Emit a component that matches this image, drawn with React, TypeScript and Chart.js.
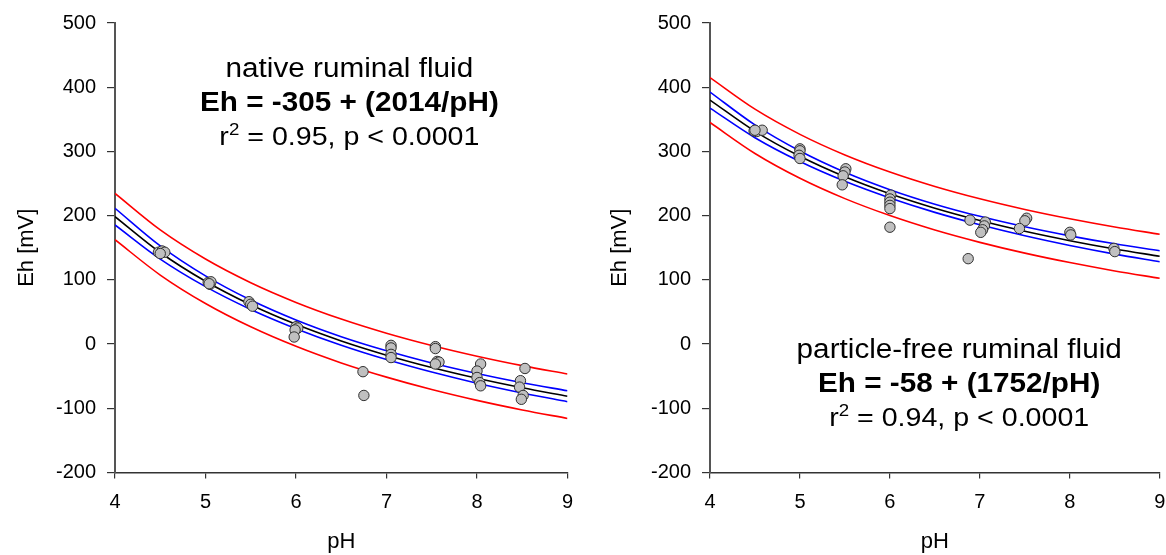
import React, { useEffect, useRef } from "react";
import { Chart, registerables } from "chart.js";

Chart.register(...registerables);

// ---------- data ----------
const PH_GRID = [4, 4.5, 5, 5.5, 6, 6.5, 7, 7.5, 8, 8.5, 9];

// native ruminal fluid: regression Eh = -305 + 2014/pH and its bands
const nativeFit = [198.5, 142.6, 97.8, 61.2, 30.7, 4.8, -17.3, -36.5, -53.3, -68.1, -81.2];
const nativeConfUpper = [211.5, 152.9, 106.2, 68.5, 37.4, 11.4, -10.5, -29.4, -45.7, -60.1, -72.7];
const nativeConfLower = [185.5, 132.3, 89.4, 53.9, 24.0, -1.8, -24.1, -43.6, -60.9, -76.1, -89.7];
const nativePredUpper = [234.5, 177.7, 132.4, 95.5, 64.9, 39.0, 16.9, -2.2, -18.9, -33.6, -46.6];
const nativePredLower = [162.5, 107.5, 63.2, 26.9, -3.5, -29.4, -51.5, -70.8, -87.7, -102.6, -115.8];

const nativePH = [4.48, 4.52, 4.55, 4.5, 5.03, 5.05, 5.06, 5.04, 5.48, 5.5, 5.52, 6.0, 6.02, 5.99, 5.98, 6.74, 6.75,
  7.05, 7.05, 7.05, 7.05, 7.54, 7.54, 7.56, 7.58, 7.54, 8.04, 8.0, 8.0, 8.03, 8.04, 8.53, 8.48, 8.47, 8.51, 8.49];
const nativeEh = [143, 145, 143, 141, 96, 93, 97, 94, 66, 62, 59, 27, 25, 22, 11, -43, -80,
  -2, -6, -16, -21, -4, -7, -27, -28, -31, -31, -42, -52, -60, -65, -38, -57, -67, -80, -86];

// particle-free ruminal fluid: regression Eh = -58 + 1752/pH and its bands
const freeFit = [380, 331.3, 292.4, 260.5, 234, 211.5, 192.3, 175.6, 161, 148.1, 136.7];
const freeConfUpper = [392.5, 341.3, 300.6, 267.6, 240.5, 217.9, 198.9, 182.6, 168.5, 156.1, 145.2];
const freeConfLower = [367.5, 321.3, 284.2, 253.4, 227.5, 205.1, 185.7, 168.6, 153.5, 140.1, 128.2];
const freePredUpper = [415, 365.8, 326.6, 294.5, 267.9, 245.4, 226.2, 209.6, 195.1, 182.3, 171.0];
const freePredLower = [345, 296.8, 258.2, 226.5, 200.1, 177.6, 158.4, 141.6, 126.9, 113.9, 102.4];

const freePH = [4.49, 4.52, 4.58, 4.5, 5.0, 5.0, 4.99, 5.0, 5.51, 5.5, 5.48, 5.47, 6.01, 6.0, 6.0, 6.0, 6.0, 6.0,
  6.89, 6.87, 7.06, 7.05, 7.03, 7.01, 7.52, 7.5, 7.44, 8.0, 8.01, 8.49, 8.5];
const freeEh = [332, 331, 333, 333, 304, 301, 294, 289, 273, 268, 262, 248, 232, 226, 221, 216, 211, 182,
  193, 133, 190, 184, 178, 174, 196, 192, 180, 174, 170, 149, 144];

const X_MIN = 4;
const X_MAX = 9;
const Y_MIN = -200;
const Y_MAX = 500;

const nativeText = ["native ruminal fluid", "Eh = -305 + (2014/pH)", "0.95"];
const freeText = ["particle-free ruminal fluid", "Eh = -58 + (1752/pH)", "0.94"];

const FONT = "'Liberation Sans', Arial, Helvetica, sans-serif";

type Annot = {
  lines: string[];
  cxPH: number;
  baselines: number[]; // in Eh units
};

function makeAnnotPlugin(a: Annot) {
  return {
    id: "annot",
    afterDatasetsDraw(chart: any) {
      const ctx = chart.ctx as CanvasRenderingContext2D;
      const xs = chart.scales.x;
      const ys = chart.scales.y;
      const cx = xs.getPixelForValue(a.cxPH);
      const sx = 1.1;
      const drawParts = (parts: { t: string; f: string; dy: number }[], by: number) => {
        ctx.save();
        ctx.translate(cx, by);
        ctx.scale(sx, 1);
        ctx.fillStyle = "#000";
        ctx.textBaseline = "alphabetic";
        ctx.textAlign = "left";
        let total = 0;
        const widths = parts.map((p) => {
          ctx.font = p.f;
          const w = ctx.measureText(p.t).width;
          total += w;
          return w;
        });
        let x = -total / 2;
        parts.forEach((p, i) => {
          ctx.font = p.f;
          ctx.fillText(p.t, x, p.dy);
          x += widths[i];
        });
        ctx.restore();
      };
      const head = `27px ${FONT}`;
      const bold = `bold 27px ${FONT}`;
      const reg = `26px ${FONT}`;
      drawParts([{ t: a.lines[0], f: head, dy: 0 }], ys.getPixelForValue(a.baselines[0]));
      drawParts([{ t: a.lines[1], f: bold, dy: 0 }], ys.getPixelForValue(a.baselines[1]));
      drawParts(
        [
          { t: "r", f: reg, dy: 0 },
          { t: "2", f: `17px ${FONT}`, dy: -10 },
          { t: ` = ${a.lines[2]}, p < 0.0001`, f: reg, dy: 0 },
        ],
        ys.getPixelForValue(a.baselines[2])
      );
    },
  };
}

function toPoints(xs: number[], ys: number[]) {
  return xs.map((x, i) => ({ x, y: ys[i] }));
}

function curve(values: number[], color: string, width: number) {
  return {
    type: "line" as const,
    data: toPoints(PH_GRID, values),
    borderColor: color,
    borderWidth: width,
    pointRadius: 0,
    showLine: true,
    fill: false,
    cubicInterpolationMode: "monotone" as const,
  };
}

type PanelProps = {
  left: number;
  yAxisWidth: number;
  yTitlePad: number;
  padRight: number;
  ph: number[];
  eh: number[];
  fit: number[];
  cu: number[];
  cl: number[];
  pu: number[];
  pl: number[];
  annot: Annot;
};

function Panel(p: PanelProps) {
  const ref = useRef<HTMLCanvasElement | null>(null);
  useEffect(() => {
    if (!ref.current) return;
    const chart = new Chart(ref.current, {
      type: "scatter",
      data: {
        datasets: [
          {
            type: "scatter",
            data: toPoints(p.ph, p.eh),
            pointRadius: 5.2,
            pointBackgroundColor: "#c0c0c0",
            pointBorderColor: "#303030",
            pointBorderWidth: 1,
            showLine: false,
          } as any,
          curve(p.fit, "#000000", 1.6),
          curve(p.cu, "#0000ff", 1.6),
          curve(p.cl, "#0000ff", 1.6),
          curve(p.pu, "#ff0000", 1.6),
          curve(p.pl, "#ff0000", 1.6),
        ],
      },
      options: {
        animation: false,
        responsive: false,
        devicePixelRatio: 1,
        layout: { padding: { left: 0, right: p.padRight, top: 20.5, bottom: 0 } },
        plugins: { legend: { display: false }, tooltip: { enabled: false } },
        scales: {
          x: {
            type: "linear",
            min: X_MIN,
            max: X_MAX,
            afterFit: (s: any) => {
              s.height = 82.5;
              s.paddingLeft = 0;
              s.paddingRight = 0;
            },
            ticks: { stepSize: 1, color: "#000", font: { size: 20, family: FONT }, padding: 12 },
            grid: { drawOnChartArea: false, drawTicks: true, tickLength: 6, color: "#333", lineWidth: 1.2 },
            border: { display: true, color: "#333", width: 1.5 },
            title: { display: true, text: "pH", color: "#000", font: { size: 22, family: FONT }, padding: { top: 0, bottom: 0 } },
          },
          y: {
            type: "linear",
            min: Y_MIN,
            max: Y_MAX,
            afterFit: (s: any) => {
              s.width = p.yAxisWidth;
            },
            ticks: { stepSize: 100, color: "#000", font: { size: 20, family: FONT }, padding: 11 },
            grid: { drawOnChartArea: false, drawTicks: true, tickLength: 8, color: "#333", lineWidth: 1.2 },
            border: { display: true, color: "#555", width: 2 },
            title: { display: true, text: "Eh [mV]", color: "#000", font: { size: 22, family: FONT }, padding: { top: p.yTitlePad, bottom: 0 } },
          },
        },
      } as any,
      plugins: [makeAnnotPlugin(p.annot)],
    });
    return () => chart.destroy();
  }, []);
  return (
    <canvas
      ref={ref}
      width={583}
      height={555}
      style={{ position: "absolute", left: p.left, top: 0, width: 583, height: 555 }}
    />
  );
}

export default function App() {
  return (
    <div style={{ position: "fixed", left: 0, top: 0, width: 1166, height: 555, background: "#fff", overflow: "hidden" }}>
      <Panel
        left={0}
        yAxisWidth={115}
        yTitlePad={14}
        padRight={15.5}
        ph={nativePH}
        eh={nativeEh}
        fit={nativeFit}
        cu={nativeConfUpper}
        cl={nativeConfLower}
        pu={nativePredUpper}
        pl={nativePredLower}
        annot={{ lines: nativeText, cxPH: 6.59, baselines: [416, 363.5, 310.5] }}
      />
      <Panel
        left={583}
        yAxisWidth={127}
        yTitlePad={24}
        padRight={5}
        ph={freePH}
        eh={freeEh}
        fit={freeFit}
        cu={freeConfUpper}
        cl={freeConfLower}
        pu={freePredUpper}
        pl={freePredLower}
        annot={{ lines: freeText, cxPH: 6.77, baselines: [-21.9, -74.5, -127.2] }}
      />
    </div>
  );
}
